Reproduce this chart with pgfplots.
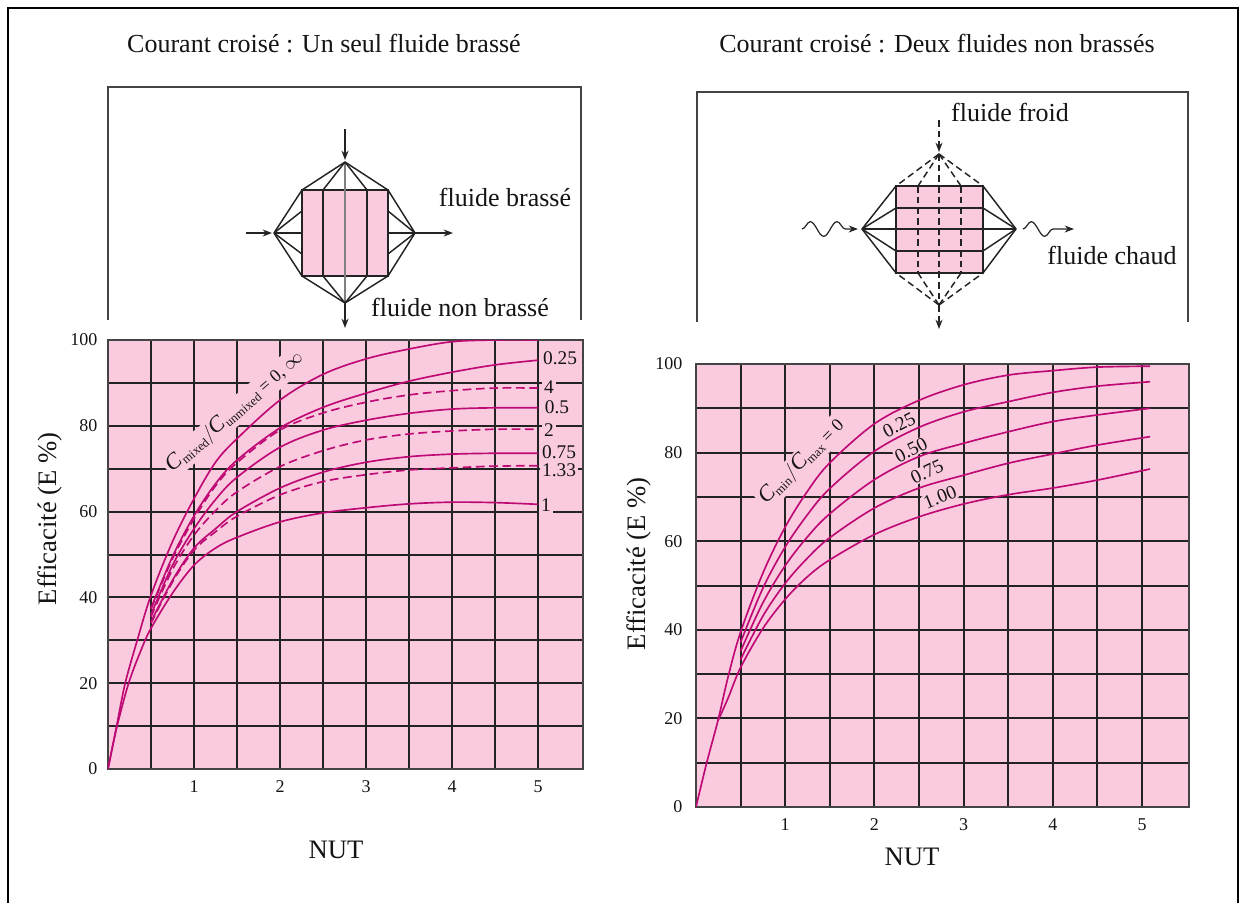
\documentclass[border=0pt]{standalone}
\usepackage{fontspec}
\setmainfont{Liberation Serif}
\usepackage{pgfplots}
\pgfplotsset{compat=1.18}
\usetikzlibrary{decorations.pathmorphing,arrows.meta}

\definecolor{bgpink}{RGB}{250,202,222}
\definecolor{curve}{RGB}{190,10,116}
\definecolor{gridc}{RGB}{35,35,35}
\definecolor{txt}{RGB}{20,20,20}

\newcommand{\fs}[1]{\fontsize{#1}{#1}\selectfont}
\newcommand{\lbl}[2]{{\fs{17}\textit{#1}}\textsubscript{#2}}

\pgfplotsset{
  heat/.style={
    scale only axis,
    axis lines=box,
    xmin=0, ymin=0, ymax=100,
    xtick={0,0.5,...,5},
    ytick={0,10,...,100},
    yticklabels={0,,20,,40,,60,,80,,100},
    xticklabels={,,1,,2,,3,,4,,5},
    grid=major,
    grid style={draw=gridc,line width=1.5pt},
    axis line style={draw=gridc!85!white,line width=1.5pt},
    major tick length=0pt,
    axis background/.style={fill=bgpink},
    /pgf/number format/assume math mode=true,
    ticklabel style={font=\fs{13.5},text=txt},
    xticklabel style={yshift=-5pt},
  },
  cv/.style={curve,line width=1.25pt,smooth,no markers,tension=0.55},
  cvd/.style={cv,dash pattern=on 6.5pt off 3.5pt},
}

\begin{document}
\begin{tikzpicture}
\begin{scope}[x=0.75pt,y=-0.75pt]
  \path[use as bounding box] (0,0) rectangle (1245,903);
  \coordinate (L) at (108,769);
  \coordinate (R) at (696,807);
\end{scope}

% left chart
\begin{axis}[heat,at={(L)},anchor=south west,
    width=356.25pt,height=321.75pt,xmax=5.523,
    xticklabels={,,1,,\raisebox{2pt}{2},,3,,\raisebox{2pt}{4},,\raisebox{-1pt}{5}},
    yticklabel style={xshift=-4.5pt},
    xlabel={NUT},ylabel={Efficacité (E \%)},
    every axis x label/.style={at={(axis description cs:0.48,-0.189)},anchor=center,font=\fs{20},text=txt},
    every axis y label/.style={at={(axis description cs:-0.122,0.583)},anchor=center,rotate=90,font=\fs{20},text=txt}]
  \addplot[cv] coordinates {(0,0)(0.1,10)(0.2,20)(0.34,30)(0.5,40.5)(0.75,53)(1,63)(1.25,71.5)(1.5,77)(2,86)(2.5,92)(3,95.6)(3.5,97.9)(4,99.6)(4.5,100)(5,100)};
  \addplot[cv] coordinates {(0.5,37.5)(0.75,49.5)(1,59)(1.25,66.5)(1.5,72)(2,79.5)(2.5,84.3)(3,87.6)(3.5,90.4)(4,92.5)(4.5,94.2)(5,95.3)};
  \addplot[cvd] coordinates {(0.5,37.3)(0.75,49)(1,58.3)(1.25,66)(1.5,71.4)(2,79)(2.5,83)(3,85.5)(3.5,87.2)(4,88.2)(4.5,88.8)(5,88.8)};
  \addplot[cv] coordinates {(0.5,36)(0.75,47.5)(1,56)(1.25,62.8)(1.5,68)(2,75)(2.5,79)(3,81.3)(3.5,82.9)(4,83.9)(4.5,84.2)(5,84.2)};
  \addplot[cvd] coordinates {(0.5,35.5)(0.75,46.5)(1,54.5)(1.25,60.2)(1.5,64.6)(2,70.5)(2.5,74.2)(3,76.7)(3.5,78.1)(4,78.8)(4.5,79.2)(5,79.2)};
  \addplot[cv] coordinates {(0.5,34.3)(0.75,44)(1,51.5)(1.25,56)(1.5,60)(2,65.5)(2.5,69.2)(3,71.5)(3.5,72.8)(4,73.4)(4.5,73.6)(5,73.6)};
  \addplot[cvd] coordinates {(0.5,34)(0.75,43.6)(1,51)(1.25,55.3)(1.5,58.9)(2,63.9)(2.5,67)(3,68.6)(3.5,69.7)(4,70.2)(4.5,70.6)(5,70.7)};
  \addplot[cv] coordinates {(0,0)(0.1,9.5)(0.24,20)(0.39,28)(0.5,32.8)(0.75,41)(1,47.5)(1.25,51.5)(1.5,54)(2,57.6)(2.5,59.7)(3,60.9)(3.5,61.8)(4,62.2)(4.5,62.1)(5,61.7)};
\end{axis}

% right chart
\begin{axis}[heat,at={(R)},anchor=south west,
    width=369.75pt,height=332.25pt,xmax=5.527,
    yticklabel style={xshift=-6.75pt},
    xlabel={NUT},ylabel={Efficacité (E \%)},
    every axis x label/.style={at={(axis description cs:0.438,-0.113)},anchor=center,font=\fs{20},text=txt},
    every axis y label/.style={at={(axis description cs:-0.116,0.549)},anchor=center,rotate=90,font=\fs{20},text=txt}]
  \addplot[cv] coordinates {(0,0)(0.12,10)(0.247,19.6)(0.36,29.4)(0.5,39.5)(0.75,52.8)(1,63.2)(1.25,71.3)(1.5,77.7)(2,86.5)(2.5,91.8)(3,95.3)(3.5,97.5)(4,98.5)(4.5,99.3)(5.09,99.5)};
  \addplot[cv] coordinates {(0.5,37.2)(0.75,49.4)(1,58.7)(1.25,66)(1.5,71.9)(2,80.3)(2.5,85.7)(3,89.2)(3.5,91.5)(4,93.6)(4.5,95)(5.09,96)};
  \addplot[cv] coordinates {(0.5,35.2)(0.75,46.1)(1,54.5)(1.25,61)(1.5,66.2)(2,73.9)(2.5,79.1)(3,82.1)(3.5,84.7)(4,87)(4.5,88.5)(5.09,90)};
  \addplot[cv] coordinates {(0.5,33.3)(0.75,43.1)(1,50.5)(1.25,56.2)(1.5,60.8)(2,67.5)(2.5,72)(3,74.9)(3.5,77.6)(4,79.7)(4.5,81.7)(5.09,83.6)};
  \addplot[cv] coordinates {(0.247,19.5)(0.36,24.6)(0.5,31.5)(0.75,40.3)(1,46.9)(1.25,52)(1.5,55.8)(2,61.5)(2.5,65.5)(3,68.4)(3.5,70.5)(4,72)(4.5,73.8)(5.09,76.3)};
\end{axis}

% everything else in image pixels
\begin{scope}[x=0.75pt,y=-0.75pt,text=txt]
  % outer frame
  \draw[black,line width=1.6pt] (8,903) -- (8,8) -- (1238,8) -- (1238,903);

  % titles
  \node[font=\fs{19.5}] at (324,44) {Courant croisé : Un seul fluide brassé};
  \node[font=\fs{19.5}] at (937,44) {Courant croisé : Deux fluides non brassés};

  \begin{scope}[every node/.style={fill=bgpink,inner sep=1.5pt,font=\fs{14.5}}]
    % curve labels, left
    \node at (560,358) {0.25};
    \node at (549,387) {4};
    \node at (557,407) {0.5};
    \node at (549,430) {2};
    \node at (559,452) {0.75};
    \node at (559,470) {1.33};
    \node at (546,505) {1};
    \node[rotate=40.8,font=\fs{13.5},inner sep=2pt] at (235,412) {\lbl{C}{mixed}$\big/$\lbl{C}{unmixed} = 0, $\infty$};
    % curve labels, right
    \node[rotate=27,inner sep=0.5pt] at (899,425) {0.25};
    \node[rotate=27,inner sep=0.5pt] at (911,450) {0.50};
    \node[rotate=25,inner sep=0.5pt] at (927,472) {0.75};
    \node[rotate=22,inner sep=0.5pt] at (940,497) {1.00};
    \node[rotate=45,font=\fs{13.5},inner sep=2pt] at (802,462) {\lbl{C}{min}$\big/$\lbl{C}{max} = 0};
  \end{scope}

  % left schematic
  \draw[gridc!85!white,line width=1.3pt] (108,320) -- (108,87) -- (581,87) -- (581,320);
  \fill[bgpink] (302,190) rectangle (388,276);
  \begin{scope}[gridc,line width=1.1pt]
    \draw (302,190) rectangle (388,276);
    \foreach \vx in {323,367} \draw (\vx,190) -- (\vx,276);
    \draw[gray] (345,162) -- (345,303);
    \foreach \vx in {302,323,367,388} {
      \draw (345,162) -- (\vx,190);
      \draw (345,303) -- (\vx,276);
    }
    \foreach \vy in {190,211,233,254,276} {
      \draw (274,233) -- (302,\vy);
      \draw (415,233) -- (388,\vy);
    }
    \draw[-{Stealth[length=7pt]}] (345,129) -- (345,160);
    \draw[-{Stealth[length=7pt]}] (345,303) -- (345,328);
    \draw[-{Stealth[length=7pt]}] (246,233) -- (272,233);
    \draw[-{Stealth[length=7pt]}] (415,233) -- (453,233);
  \end{scope}
  \node[font=\fs{19.5}] at (505,197) {fluide brassé};
  \node[font=\fs{19.5}] at (460,307) {fluide non brassé};

  % right schematic
  \draw[gridc!85!white,line width=1.3pt] (697,322) -- (697,92) -- (1188,92) -- (1188,322);
  \fill[bgpink] (896,186) rectangle (983,273);
  \begin{scope}[gridc,line width=1.1pt]
    \draw (896,186) rectangle (983,273);
    \foreach \vy in {208,229,251} \draw (896,\vy) -- (983,\vy);
    \foreach \vy in {186,208,229,251,273} {
      \draw (862,229) -- (896,\vy);
      \draw (1016,229) -- (983,\vy);
    }
    \begin{scope}[dash pattern=on 5pt off 3pt]
      \foreach \vx in {918,961} \draw (\vx,186) -- (\vx,273);
      \draw (939,154) -- (939,305);
      \foreach \vx in {896,918,961,983} {
        \draw (939,154) -- (\vx,186);
        \draw (939,305) -- (\vx,273);
      }
      \draw[-{Stealth[length=7pt]}] (939,120) -- (939,152);
      \draw[-{Stealth[length=7pt]}] (939,305) -- (939,329);
    \end{scope}
    \draw[line width=0.9pt,-{Stealth[length=7pt]},decorate,decoration={snake,amplitude=5.5pt,segment length=20pt,post length=8pt}] (802,229) -- (858,229);
    \draw[line width=0.9pt,-{Stealth[length=7pt]},decorate,decoration={snake,amplitude=5.5pt,segment length=20pt,post length=8pt}] (1023,229) -- (1074,229);
  \end{scope}
  \node[font=\fs{19.5}] at (1010,112) {fluide froid};
  \node[font=\fs{19.5}] at (1112,255) {fluide chaud};
\end{scope}
\end{tikzpicture}
\end{document}
